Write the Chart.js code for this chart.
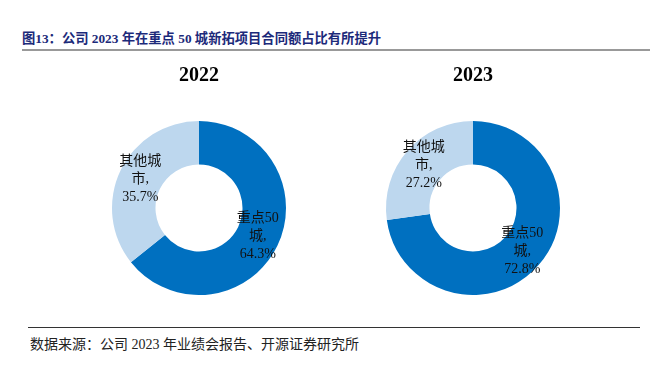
<!DOCTYPE html>
<html>
<head>
<meta charset="utf-8">
<script src="https://cdn.jsdelivr.net/npm/chart.js@4/dist/chart.umd.min.js"></script>
<style>
    body { margin: 0; width: 672px; height: 369px; background: #fff; position: relative; overflow: hidden; }
    .title { position: absolute; left: 22px; top: 28px; font: bold 13.3px "Liberation Serif", "Noto Sans CJK SC"; color: #1c2a7a; white-space: nowrap; }
    .rule-top { position: absolute; left: 22px; top: 49px; width: 628px; height: 2px; background: #999; }
    .rule-bottom { position: absolute; left: 28px; top: 327px; width: 612px; height: 1px; background: #333; }
    .source { position: absolute; left: 30px; top: 333px; font: 14px "Liberation Serif", "Noto Sans CJK SC"; color: #222; white-space: nowrap; }
    .chart-box { position: absolute; top: 60px; width: 200px; height: 235px; }
</style>
</head>
<body>
<div class="title">图13：公司 2023 年在重点 50 城新拓项目合同额占比有所提升</div>
<div class="rule-top"></div>
<div class="chart-box" style="left:99px"><canvas id="chart2022"></canvas></div>
<div class="chart-box" style="left:373px"><canvas id="chart2023"></canvas></div>
<div class="rule-bottom"></div>
<div class="source">数据来源：公司 2023 年业绩会报告、开源证券研究所</div>

<script>
// Data
const years = ['2022', '2023'];
const categories = ['重点50城', '其他城市'];
const labelLines = [['重点50', '城,'], ['其他城', '市,']];
const share2022 = [64.3, 35.7];
const share2023 = [72.8, 27.2];
const colors = ['#0070c0', '#bdd7ee'];

// Draws the label text in the middle of each slice
const sliceLabels = {
    id: 'sliceLabels',
    afterDatasetsDraw(chart) {
        const ctx = chart.ctx;
        const meta = chart.getDatasetMeta(0);
        const values = chart.data.datasets[0].data;
        ctx.save();
        ctx.font = '14px "Liberation Serif", "Noto Sans CJK SC"';
        ctx.fillStyle = '#111';
        ctx.textAlign = 'center';
        ctx.textBaseline = 'middle';
        meta.data.forEach((arc, i) => {
            const pos = arc.tooltipPosition();
            const lines = labelLines[i].concat([values[i].toFixed(1) + '%']);
            const lh = 18;
            const start = pos.y - (lines.length - 1) * lh / 2;
            lines.forEach((t, j) => ctx.fillText(t, pos.x, start + j * lh));
        });
        ctx.restore();
    }
};

function renderDonut(id, year, values) {
    const ctx = document.getElementById(id).getContext('2d');
    new Chart(ctx, {
        type: 'doughnut',
        data: {
            labels: categories,
            datasets: [{
                data: values,
                backgroundColor: colors,
                borderWidth: 0
            }]
        },
        options: {
            responsive: true,
            maintainAspectRatio: false,
            animation: false,
            cutout: '50%',
            plugins: {
                legend: { display: false },
                tooltip: { enabled: false },
                title: {
                    display: true,
                    text: year,
                    color: '#000',
                    font: { family: '"Liberation Serif"', size: 20, weight: 'bold' },
                    padding: { top: 4, bottom: 33 }
                }
            }
        },
        plugins: [sliceLabels]
    });
}

renderDonut('chart2022', years[0], share2022);
renderDonut('chart2023', years[1], share2023);
</script>
</body>
</html>
